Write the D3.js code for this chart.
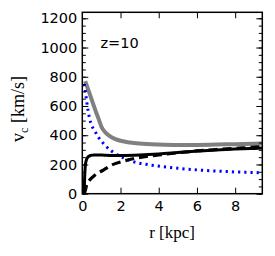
<!DOCTYPE html>
<html><head><meta charset="utf-8">
<script src="https://cdn.jsdelivr.net/npm/d3@7"></script>
<style>body{margin:0;background:#fff}svg{display:block}</style>
</head><body><svg id="c" width="275" height="256"></svg>
<script>
// Data
const totalR = [0.15,0.2,0.3,0.4,0.5,0.6,0.7,0.8,0.9,1.0,1.2,1.4,1.7,2.0,2.5,3,4,5,6,7,8,9,9.45];
const totalV = [770,752,716,678,640,602,565,530,495,458,420,397,375,362,350,343,336,333,334,336,339,342,344];
const gasR = [0.08,0.12,0.2,0.3,0.4,0.5,0.67,0.85,1.0,1.2,1.5,1.9,2.3,2.7,3.5,4.2,5,6,7,8,9,9.45];
const gasV = [750,735,660,570,505,465,425,385,360,330,295,262,238,218,198,185,174,163,155,149,145,143];
const starR = [0.1,0.12,0.15,0.2,0.3,0.45,0.6,1,1.5,2,3,4,5,6,7,8,9,9.45];
const starV = [0,100,180,225,252,262,265,264,262,262,265,272,282,292,299,305,310,312];
const dmR = [0.1,0.15,0.23,0.4,0.67,1.1,1.54,2.06,2.76,3.5,4,5,6,7,8,9,9.45];
const dmV = [0,20,60,95,128,162,196,219,242,258,265,280,293,302,310,318,322];
const xTicks = [0,2,4,6,8];
const yTicks = [0,200,400,600,800,1000,1200];
const yMinor = d3.range(0,1250,50);
const label = "z=10";

const svg = d3.select("#c");
const L=82.3,R=262.3,T=12.3,B=193.7;
const x = d3.scaleLinear().domain([0,9.42]).range([L,R]);
const y = d3.scaleLinear().domain([0,1241]).range([B,T]);

svg.append("clipPath").attr("id","cp").append("rect")
  .attr("x",L).attr("y",T).attr("width",R-L).attr("height",B-T);
const g = svg.append("g").attr("clip-path","url(#cp)");
const line = d3.line().x(d=>x(d[0])).y(d=>y(d[1])).curve(d3.curveMonotoneX);
const zip=(a,b)=>a.map((v,i)=>[v,b[i]]);

g.append("path").datum(zip(totalR,totalV)).attr("d",line)
 .attr("fill","none").attr("stroke","#808080").attr("stroke-width",4);
g.append("path").datum(zip(gasR,gasV)).attr("d",line)
 .attr("fill","none").attr("stroke","#0000ff").attr("stroke-width",3).attr("stroke-dasharray","2.2,4");
g.append("path").datum(zip(starR,starV)).attr("d",line)
 .attr("fill","none").attr("stroke","#000").attr("stroke-width",3);
g.append("path").datum(zip(dmR,dmV)).attr("d",line)
 .attr("fill","none").attr("stroke","#000").attr("stroke-width",3.2).attr("stroke-dasharray","9,5");

// axes
const font="'DejaVu Sans',sans-serif";
const axL = svg.append("g").attr("transform",`translate(${L},0)`)
 .call(d3.axisLeft(y).tickValues(yTicks).tickSize(-6).tickPadding(5).tickFormat(d3.format("d")));
const axB = svg.append("g").attr("transform",`translate(0,${B})`)
 .call(d3.axisBottom(x).tickValues(xTicks).tickSize(-6).tickPadding(7).tickFormat(d3.format("d")));
const axT = svg.append("g").attr("transform",`translate(0,${T})`)
 .call(d3.axisTop(x).tickValues(xTicks.slice(1)).tickSize(-6).tickFormat(""));
const axR = svg.append("g").attr("transform",`translate(${R},0)`)
 .call(d3.axisRight(y).tickValues(yTicks).tickSize(-6).tickFormat(""));
const axLm = svg.append("g").attr("transform",`translate(${L},0)`)
 .call(d3.axisLeft(y).tickValues(yMinor).tickSize(-3.5).tickFormat(""));
const axRm = svg.append("g").attr("transform",`translate(${R},0)`)
 .call(d3.axisRight(y).tickValues(yMinor).tickSize(-3.5).tickFormat(""));
[axL,axB,axT,axR,axLm,axRm].forEach(a=>{
  a.select(".domain").remove();
  a.selectAll("line").attr("stroke","#000").attr("stroke-width",1);
  a.selectAll("text").attr("font-family",font).attr("font-size","14.5px").attr("fill","#000");
});
svg.append("rect").attr("x",L).attr("y",T).attr("width",R-L).attr("height",B-T)
 .attr("fill","none").attr("stroke","#000").attr("stroke-width",1.5);

svg.append("text").attr("x",x(0.95)).attr("y",y(1000)).attr("font-family",font)
 .attr("font-size","14.5px").attr("fill","#000").text(label);

svg.append("text").attr("x",x(4.7)).attr("y",238).attr("text-anchor","middle")
 .attr("font-family","'Liberation Serif','DejaVu Serif',serif").attr("font-size","17px").text("r [kpc]");
const yl = svg.append("text").attr("transform",`translate(24,${(T+B)/2+6}) rotate(-90)`)
 .attr("text-anchor","middle").attr("font-family","'Liberation Serif','DejaVu Serif',serif").attr("font-size","18px");
yl.append("tspan").text("v");
yl.append("tspan").attr("font-size","12px").attr("dy",4).text("c");
yl.append("tspan").attr("dy",-4).text(" [km/s]");
</script></body></html>
